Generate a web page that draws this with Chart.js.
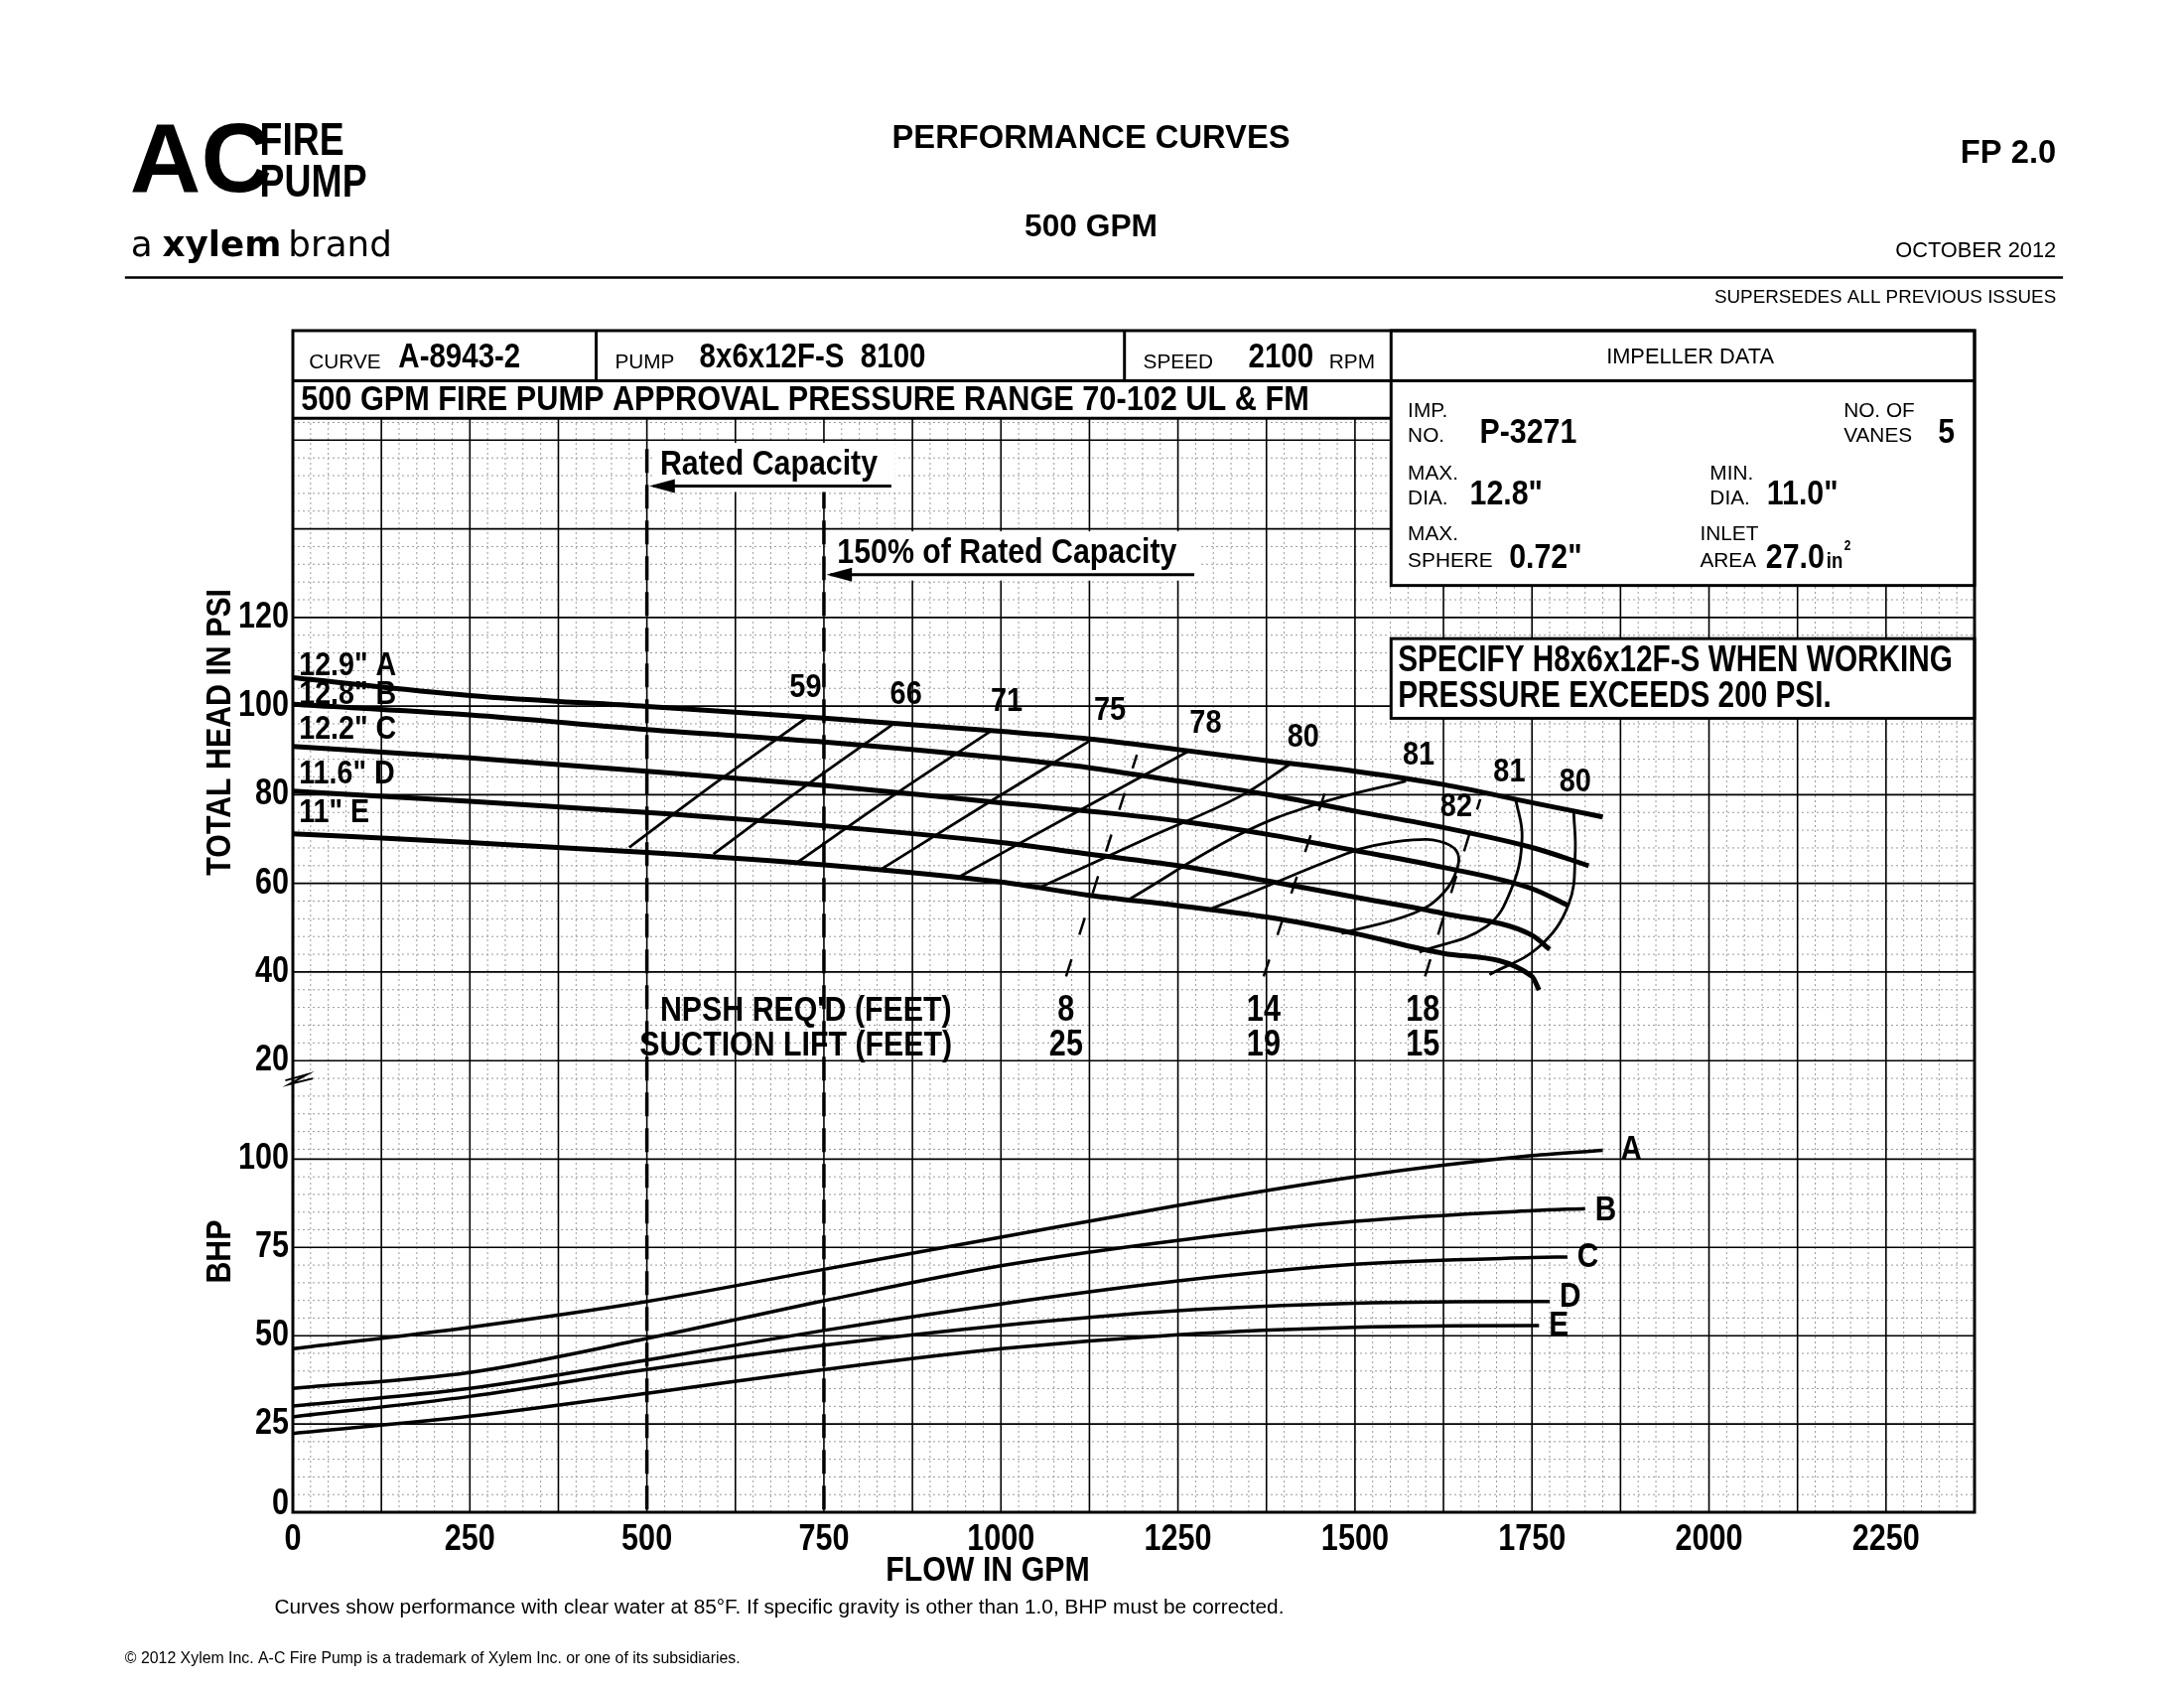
<!DOCTYPE html>
<html>
<head>
<meta charset="utf-8">
<style>
  html, body { margin: 0; padding: 0; background: #fff; }
  #wrap { position: relative; width: 2200px; height: 1700px; }
</style>
<script src="https://cdn.jsdelivr.net/npm/chart.js@4.4.1/dist/chart.umd.min.js"></script>
</head>
<body>
<div id="wrap"><canvas id="pump" width="2200" height="1700"></canvas></div>
<script>
// head-capacity curves (gpm, psi) per impeller diameter
const flowPts = [0, 250, 500, 750, 1000, 1125, 1250, 1375, 1500, 1625, 1750];
const headA = [106.4, 102.4, 99.9, 97.3, 94.3, 92.6, 90.2, 87.7, 85.3, 82.3, 78.2];
const headB = [100.4, 98.0, 94.7, 91.9, 88.3, 86.1, 83.1, 80.1, 76.3, 72.6, 68.1];
const headC = [90.9, 88.3, 85.3, 82.1, 78.2, 76.3, 74.1, 71.1, 67.4, 63.6, 58.8];
const headD = [80.8, 78.5, 76.0, 73.0, 69.2, 66.6, 64.0, 60.6, 56.9, 53.2, 48.3];
const headE = [71.2, 69.2, 67.0, 64.2, 60.3, 57.3, 55.0, 52.4, 48.7, 44.2, 39.0];
const headEnd = { A: [1850, 75.0], B: [1830, 64.0], C: [1800, 55.1], D: [1775, 45.1], E: [1760, 35.9] };

// brake horsepower curves
const bhpFlow = [0, 250, 500, 750, 1000, 1250, 1500, 1750];
const bhpA = [46.3, 52.4, 59.7, 68.8, 77.9, 86.9, 95.0, 101.0];
const bhpB = [35.1, 39.6, 49.2, 59.9, 69.8, 77.0, 82.4, 85.4];
const bhpC = [30.1, 35.1, 43.1, 51.5, 59.0, 65.5, 70.2, 72.1];
const bhpD = [27.0, 32.8, 40.4, 47.3, 52.9, 57.1, 59.2, 59.7];
const bhpE = [22.3, 27.2, 33.7, 40.4, 46.3, 50.3, 52.4, 52.9];
const bhpEnd = { A: [1850, 102.5], B: [1825, 86.0], C: [1800, 72.3], D: [1775, 59.7], E: [1760, 52.9] };

// efficiency contours [gpm, psi]
const eff59 = [[475, 68.1], [600, 83.0], [725, 97.3]];
const eff66 = [[594, 66.6], [720, 81.5], [850, 96.2]];
const eff71 = [[712, 64.7], [845, 79.5], [986, 94.4]];
const eff75 = [[831, 63.2], [975, 77.5], [1130, 92.6]];
const eff78 = [[940, 61.4], [1100, 75.5], [1267, 90.0]];
const eff80 = [[1055, 59.1], [1211, 70.5], [1336, 79.5], [1411, 87.2]];
const eff81L = [[1180, 56.3], [1338, 71.1], [1446, 77.9], [1572, 83.1]];
const eff82 = [[1290, 53.8], [1338, 56.9], [1488, 66.7], [1526, 68.5], [1582, 69.8], [1619, 69.5], [1643, 67.4],
  [1645, 63.7], [1624, 57.7], [1582, 53.2], [1481, 48.7]];
const eff81R = [[1727, 79.0], [1736, 70.4], [1722, 59.2], [1685, 50.2], [1591, 44.5]];
const eff80R = [[1809, 76.0], [1811, 66.7], [1802, 55.4], [1760, 45.7], [1690, 39.4]];
const effLabels = [["59", 724, 104.2], ["66", 866, 102.6], ["71", 1008, 101.1], ["75", 1154, 98.9], ["78", 1289, 96.0],
  ["80", 1427, 92.9], ["81", 1590, 88.8], ["81", 1718, 85.0], ["80", 1811, 82.8], ["82", 1643, 77.2]];

// NPSH required lines
const npsh8 = [[1092, 39], [1192, 89]];
const npsh14 = [[1371, 39], [1467, 85]];
const npsh18 = [[1599, 39], [1677, 79]];
const npshVals = [["8", "25", 1092], ["14", "19", 1371], ["18", "15", 1596]];

const flowTicks = [0, 250, 500, 750, 1000, 1250, 1500, 1750, 2000, 2250];
const headTicks = [20, 40, 60, 80, 100, 120];
const bhpTicks = [0, 25, 50, 75, 100];
const ratedFlow = [500, 750];

const X_MAX = 2375, BHP_MAX = 309.9, HEAD_MIN = -81.9, HEAD_MAX = 165;
const S = 0.991;            // page layout scale
const PLAIN = '"Liberation Sans", Arial, sans-serif';
const NX = 0.85;            // horizontal squeeze for condensed bold text

const zip = (xs, ys) => xs.map((x, i) => ({ x, y: ys[i] }));
const pts = arr => arr.map(p => ({ x: p[0], y: p[1] }));

function line(data, axis, width, extra) {
  return Object.assign({ data, yAxisID: axis, borderColor: '#000', borderWidth: width,
    pointRadius: 0, fill: false, tension: 0.4 }, extra || {});
}

const datasets = [];
[[headA, 'A'], [headB, 'B'], [headC, 'C'], [headD, 'D'], [headE, 'E']].forEach(([h, k]) => {
  const d = zip(flowPts, h); d.push({ x: headEnd[k][0], y: headEnd[k][1] });
  datasets.push(line(d, 'yh', 5, { cubicInterpolationMode: 'monotone' }));
});
[[bhpA, 'A'], [bhpB, 'B'], [bhpC, 'C'], [bhpD, 'D'], [bhpE, 'E']].forEach(([b, k]) => {
  const d = zip(bhpFlow, b); d.push({ x: bhpEnd[k][0], y: bhpEnd[k][1] });
  datasets.push(line(d, 'y', 3.5, { cubicInterpolationMode: 'monotone' }));
});
[eff59, eff66, eff71, eff75, eff78, eff80, eff81L, eff82, eff81R, eff80R].forEach(e =>
  datasets.push(line(pts(e), 'yh', 2.8)));
[npsh8, npsh14, npsh18].forEach(n => datasets.push(line(pts(n), 'yh', 2.5, { borderDash: [18, 26], tension: 0 })));
ratedFlow.forEach(f => datasets.push(line([{ x: f, y: 158 }, { x: f, y: HEAD_MIN }], 'yh', 3.5,
  { borderDash: [24, 12], tension: 0 })));

function txt(ctx, s, x, y, font, align, base) {
  ctx.font = font; ctx.textAlign = align || 'left'; ctx.textBaseline = base || 'middle';
  ctx.fillStyle = '#000'; ctx.fillText(s, x, y);
}
// condensed bold text, returns drawn width
function ntxt(ctx, s, x, y, size, align, sx) {
  sx = sx || NX;
  ctx.save(); ctx.translate(x, y); ctx.scale(sx, 1);
  txt(ctx, s, 0, 0, 'bold ' + size + 'px ' + PLAIN, align);
  const w = ctx.measureText(s).width * sx;
  ctx.restore();
  return w;
}

const gridPlugin = {
  id: 'grid',
  beforeDatasetsDraw(chart) {
    const { ctx, chartArea: a, scales } = chart;
    const xs = scales.x, yb = scales.y, yh = scales.yh;
    const hLine = py => { ctx.beginPath(); ctx.moveTo(a.left, py); ctx.lineTo(a.right, py); ctx.stroke(); };
    ctx.save();
    ctx.strokeStyle = '#9a9a9a'; ctx.lineWidth = 1; ctx.setLineDash([2, 3]);
    for (let g = 25; g < X_MAX; g += 25) {
      if (g % 125 === 0) continue;
      const px = xs.getPixelForValue(g);
      ctx.beginPath(); ctx.moveTo(px, a.top); ctx.lineTo(px, a.bottom); ctx.stroke();
    }
    for (let b = 5; b < 100; b += 5) if (b % 25) hLine(yb.getPixelForValue(b));
    const top100 = yb.getPixelForValue(100);
    for (let h = 164; h > -10; h -= 4) {
      if (h % 20 === 0 && h >= 20) continue;
      const py = yh.getPixelForValue(h);
      if (py < top100 - 8 && py > a.top) hLine(py);
    }
    ctx.setLineDash([]); ctx.strokeStyle = '#000'; ctx.lineWidth = 1.6;
    for (let g = 125; g < X_MAX; g += 125) {
      const px = xs.getPixelForValue(g);
      ctx.beginPath(); ctx.moveTo(px, a.top); ctx.lineTo(px, a.bottom); ctx.stroke();
    }
    for (let b = 25; b <= 100; b += 25) hLine(yb.getPixelForValue(b));
    for (let h = 20; h <= 160; h += 20) hLine(yh.getPixelForValue(h));
    ctx.restore();
  },
  afterDatasetsDraw(chart) {
    const { ctx, chartArea: a, scales } = chart;
    const xs = scales.x, yb = scales.y, yh = scales.yh;
    const P = n => n + 'px ' + PLAIN;
    ctx.save();
    ctx.scale(S, S);
    const L = a.left / S, R = a.right / S, Bt = a.bottom / S;
    ctx.fillStyle = '#fff';
    ctx.fillRect(1414, 336, R - 1414, 259);
    ctx.fillRect(L, 336, 1414 - L, 89);
    ctx.fillRect(1414, 649, R - 1414, 81);
    ctx.fillRect(664, 450, 246, 50);
    ctx.fillRect(842, 540, 376, 50);
    ctx.strokeStyle = '#000'; ctx.lineWidth = 3;
    ctx.strokeRect(L, 336, R - L, Bt - 336);
    ctx.strokeRect(1414, 336, R - 1414, 259);
    ctx.strokeRect(1414, 649, R - 1414, 81);
    ctx.beginPath();
    ctx.moveTo(L, 387); ctx.lineTo(R, 387);
    ctx.moveTo(L, 425); ctx.lineTo(1414, 425);
    ctx.moveTo(606, 336); ctx.lineTo(606, 387);
    ctx.moveTo(1143, 336); ctx.lineTo(1143, 387);
    ctx.stroke();
    txt(ctx, 'CURVE', 314, 369, P(21)); ntxt(ctx, 'A-8943-2', 405, 364, 35);
    txt(ctx, 'PUMP', 625, 369, P(21)); ntxt(ctx, '8x6x12F-S  8100', 711, 364, 35);
    txt(ctx, 'SPEED', 1162, 369, P(21)); ntxt(ctx, '2100', 1269, 364, 35); txt(ctx, 'RPM', 1351, 369, P(21));
    ntxt(ctx, '500 GPM FIRE PUMP APPROVAL PRESSURE RANGE 70-102 UL & FM', 306, 407, 36, 'left', 0.86);
    txt(ctx, 'IMPELLER DATA', 1718, 363, P(22), 'center');
    txt(ctx, 'IMP.', 1431, 418, P(21)); txt(ctx, 'NO.', 1431, 443, P(21)); ntxt(ctx, 'P-3271', 1504, 440, 36);
    txt(ctx, 'NO. OF', 1874, 418, P(21)); txt(ctx, 'VANES', 1874, 443, P(21)); ntxt(ctx, '5', 1970, 440, 36);
    txt(ctx, 'MAX.', 1431, 482, P(21)); txt(ctx, 'DIA.', 1431, 507, P(21)); ntxt(ctx, '12.8"', 1494, 503, 36);
    txt(ctx, 'MIN.', 1738, 482, P(21)); txt(ctx, 'DIA.', 1738, 507, P(21)); ntxt(ctx, '11.0"', 1796, 503, 36);
    txt(ctx, 'MAX.', 1431, 543, P(21)); txt(ctx, 'SPHERE', 1431, 570, P(21)); ntxt(ctx, '0.72"', 1534, 567, 36);
    txt(ctx, 'INLET', 1728, 543, P(21)); txt(ctx, 'AREA', 1728, 570, P(21));
    const w27 = ntxt(ctx, '27.0', 1795, 567, 36);
    ntxt(ctx, 'in', 1797 + w27, 571, 22); ntxt(ctx, '2', 1815 + w27, 555, 14);
    ntxt(ctx, 'SPECIFY H8x6x12F-S WHEN WORKING', 1421, 672, 38, 'left', 0.79);
    ntxt(ctx, 'PRESSURE EXCEEDS 200 PSI.', 1421, 708, 38, 'left', 0.79);
    ntxt(ctx, 'Rated Capacity', 671, 472, 36);
    ntxt(ctx, '150% of Rated Capacity', 851, 562, 36);
    ctx.lineWidth = 3;
    [[906, 664, 494], [1214, 844, 584]].forEach(([x1, x2, y]) => {
      ctx.beginPath(); ctx.moveTo(x1, y); ctx.lineTo(x2, y); ctx.stroke();
      ctx.beginPath(); ctx.moveTo(x2 - 4, y); ctx.lineTo(x2 + 22, y - 7); ctx.lineTo(x2 + 22, y + 7); ctx.closePath();
      ctx.fill();
    });
    [['12.9" A', 677], ['12.8" B', 706], ['12.2" C', 741], ['11.6" D', 787], ['11" E', 826]].forEach(([s, y]) =>
      ntxt(ctx, s, 304, y, 34));
    ntxt(ctx, "NPSH REQ'D (FEET)", 671, 1027, 36);
    ntxt(ctx, 'SUCTION LIFT (FEET)', 650, 1063, 36);
    ctx.lineWidth = 2; ctx.beginPath();
    ctx.moveTo(290, 1098); ctx.lineTo(312, 1092); ctx.lineTo(294, 1102); ctx.lineTo(318, 1096); ctx.stroke();
    ntxt(ctx, 'FLOW IN GPM', 1004, 1597, 36, 'center');
    ctx.save(); ctx.translate(224, 744); ctx.rotate(-Math.PI / 2);
    ntxt(ctx, 'TOTAL HEAD IN PSI', 0, 0, 36, 'center'); ctx.restore();
    ctx.save(); ctx.translate(224, 1272); ctx.rotate(-Math.PI / 2);
    ntxt(ctx, 'BHP', 0, 0, 36, 'center'); ctx.restore();
    ctx.restore();

    // labels tied to the scales
    ctx.save();
    effLabels.forEach(([s, f, h]) => ntxt(ctx, s, xs.getPixelForValue(f), yh.getPixelForValue(h), 34, 'center'));
    npshVals.forEach(([n, s, f]) => {
      const px = xs.getPixelForValue(f);
      ntxt(ctx, n, px, 1027 * S, 36, 'center'); ntxt(ctx, s, px, 1063 * S, 36, 'center');
    });
    Object.entries(bhpEnd).forEach(([k, p], i) => {
      const dy = [0, 2, 0, -4, 0][i];
      ntxt(ctx, k, xs.getPixelForValue(p[0]) + 10 + (k === 'A' ? 8 : 0), yb.getPixelForValue(p[1]) + dy, 35);
    });
    headTicks.forEach(h => ntxt(ctx, String(h), a.left - 4, yh.getPixelForValue(h), 36, 'right'));
    bhpTicks.forEach(b => ntxt(ctx, String(b), a.left - 4, yb.getPixelForValue(b) - (b === 0 ? 8 : 0), 36, 'right'));
    flowTicks.forEach(f => ntxt(ctx, String(f), xs.getPixelForValue(f), a.bottom + 28, 36, 'center'));
    ctx.restore();
  }
};

const pagePlugin = {
  id: 'page',
  beforeDraw(chart) {
    const ctx = chart.ctx;
    ctx.save();
    ctx.fillStyle = '#fff'; ctx.fillRect(0, 0, 2200, 1700);
    ctx.scale(S, S);
    ntxt(ctx, 'AC', 132, 167, 100, 'left', 1.0);
    ntxt(ctx, 'FIRE', 264, 145, 46, 'left', 0.82);
    ntxt(ctx, 'PUMP', 264, 187, 46, 'left', 0.82);
    txt(ctx, 'a', 133, 251, '36px "DejaVu Sans", sans-serif');
    txt(ctx, 'xylem', 165, 251, 'bold 36px "DejaVu Sans", sans-serif');
    txt(ctx, 'brand', 293, 251, '36px "DejaVu Sans", sans-serif');
    txt(ctx, 'PERFORMANCE CURVES', 1109, 141, 'bold 33px ' + PLAIN, 'center');
    txt(ctx, '500 GPM', 1109, 231, 'bold 32px ' + PLAIN, 'center');
    txt(ctx, 'FP 2.0', 2090, 156, 'bold 33px ' + PLAIN, 'right');
    txt(ctx, 'OCTOBER 2012', 2090, 255, '22px ' + PLAIN, 'right');
    txt(ctx, 'SUPERSEDES ALL PREVIOUS ISSUES', 2090, 303, '19px ' + PLAIN, 'right');
    ctx.strokeStyle = '#000'; ctx.lineWidth = 2.5;
    ctx.beginPath(); ctx.moveTo(127, 282); ctx.lineTo(2097, 282); ctx.stroke();
    txt(ctx, 'Curves show performance with clear water at 85°F. If specific gravity is other than 1.0, BHP must be corrected.',
      279, 1634, '21px ' + PLAIN);
    txt(ctx, '© 2012 Xylem Inc. A-C Fire Pump is a trademark of Xylem Inc. or one of its subsidiaries.', 127, 1686, '16px ' + PLAIN);
    ctx.restore();
  }
};

new Chart(document.getElementById('pump'), {
  type: 'line',
  data: { datasets },
  options: {
    responsive: false, animation: false, devicePixelRatio: 1,
    layout: { padding: { left: 295, right: 211, top: 421, bottom: 177 } },
    plugins: { legend: { display: false }, tooltip: { enabled: false } },
    scales: {
      x: { type: 'linear', min: 0, max: X_MAX, display: false },
      y: { type: 'linear', min: 0, max: BHP_MAX, display: false },
      yh: { type: 'linear', min: HEAD_MIN, max: HEAD_MAX, display: false }
    }
  },
  plugins: [pagePlugin, gridPlugin]
});
</script>
</body>
</html>
